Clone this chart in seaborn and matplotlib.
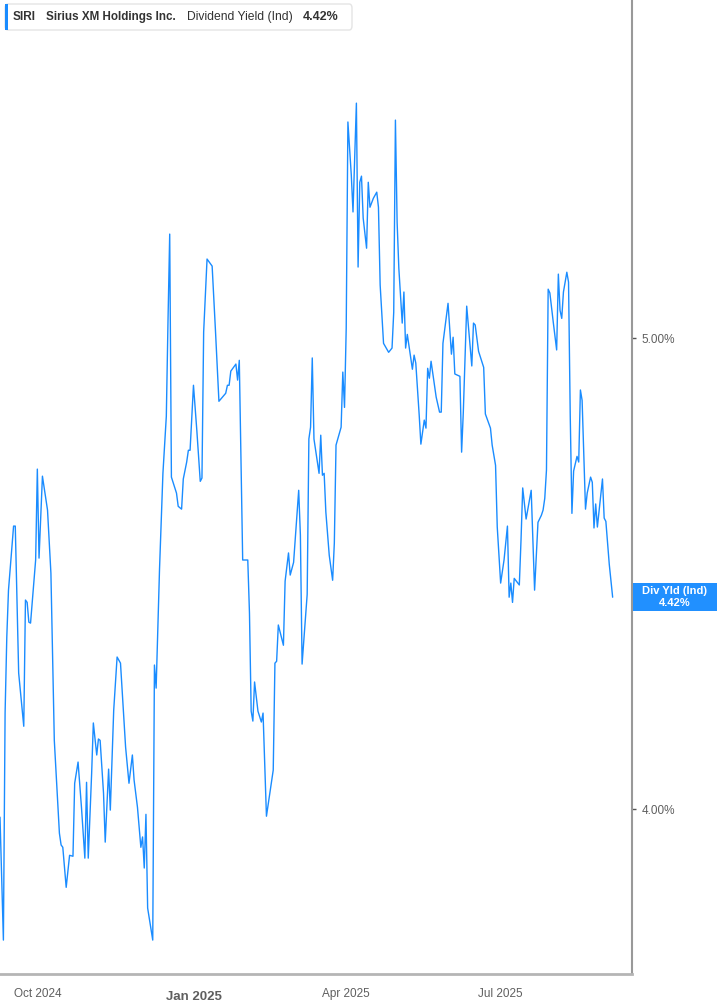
import matplotlib
matplotlib.use("Agg")
import matplotlib.pyplot as plt
from matplotlib.patches import FancyBboxPatch, Rectangle
import seaborn as sns
import pandas as pd

# ---- data (calendar days since 2024-09-09, yield in %) ----
start_date = "2024-09-09"
days = [0, 2, 3, 4, 5, 8, 9, 11, 14, 15, 16, 17, 18, 21, 22, 23, 25, 28, 30, 32,
        35, 36, 37, 39, 41, 43, 44, 46, 48, 50, 51, 52, 54, 55, 57, 58, 59, 61, 62, 64,
        65, 67, 69, 71, 74, 76, 78, 79, 81, 83, 84, 85, 86, 87, 90, 91, 92, 94, 96, 98,
        99, 100, 101, 104, 105, 107, 108, 110, 111, 112, 114, 116, 118, 119, 120, 122, 125, 127, 129, 132,
        133, 134, 135, 136, 139, 140, 141, 143, 146, 147, 148, 149, 150, 152, 154, 155, 157, 161, 162, 163,
        164, 167, 168, 170, 171, 173, 176, 177, 178, 181, 182, 183, 184, 185, 188, 189, 190, 191, 192, 194,
        196, 197, 198, 201, 202, 203, 204, 205, 207, 208, 210, 211, 212, 213, 214, 216, 217, 218, 220, 222,
        223, 224, 226, 229, 231, 232, 233, 234, 235, 237, 238, 239, 240, 243, 244, 245, 247, 248, 250, 251,
        252, 253, 254, 257, 259, 260, 261, 264, 266, 267, 268, 271, 272, 273, 275, 278, 279, 280, 282, 285,
        286, 289, 290, 292, 293, 295, 297, 299, 300, 301, 302, 303, 306, 307, 308, 310, 313, 314, 315, 317,
        319, 320, 321, 322, 323, 324, 326, 328, 329, 330, 331, 332, 334, 335, 336, 337, 338, 340, 341, 342,
        343, 345, 346, 348, 349, 350, 351, 352, 355, 356, 357, 359, 361]
div_yield = [3.983, 3.722, 4.204, 4.365, 4.465, 4.601, 4.601, 4.289, 4.176, 4.444, 4.439, 4.397, 4.395, 4.529, 4.722, 4.533, 4.707, 4.635, 4.501, 4.146,
             3.949, 3.924, 3.919, 3.834, 3.902, 3.900, 4.055, 4.100, 4.004, 3.896, 4.057, 3.896, 4.076, 4.183, 4.115, 4.149, 4.146, 4.034, 3.930, 4.085,
             3.998, 4.210, 4.323, 4.310, 4.132, 4.055, 4.115, 4.062, 4.004, 3.919, 3.941, 3.875, 3.989, 3.790, 3.722, 4.306, 4.257, 4.510, 4.713, 4.834,
             5.038, 5.221, 4.705, 4.671, 4.643, 4.637, 4.701, 4.737, 4.762, 4.762, 4.900, 4.803, 4.696, 4.703, 5.013, 5.168, 5.153, 5.013, 4.866, 4.879,
             4.883, 4.900, 4.900, 4.930, 4.945, 4.911, 4.953, 4.529, 4.529, 4.416, 4.208, 4.187, 4.270, 4.208, 4.185, 4.204, 3.985, 4.083, 4.310, 4.314,
             4.391, 4.348, 4.484, 4.544, 4.497, 4.524, 4.677, 4.582, 4.308, 4.456, 4.786, 4.811, 4.958, 4.786, 4.713, 4.794, 4.709, 4.713, 4.631, 4.539,
             4.486, 4.565, 4.773, 4.811, 4.928, 4.853, 5.021, 5.459, 5.346, 5.268, 5.499, 5.151, 5.331, 5.344, 5.255, 5.191, 5.331, 5.278, 5.297, 5.310,
             5.278, 5.113, 4.989, 4.970, 4.979, 5.055, 5.463, 5.246, 5.149, 5.032, 5.098, 4.979, 5.008, 4.934, 4.964, 4.947, 4.837, 4.775, 4.826, 4.809,
             4.936, 4.915, 4.951, 4.875, 4.843, 4.843, 4.989, 5.074, 4.966, 5.002, 4.924, 4.919, 4.758, 4.843, 5.068, 4.941, 5.032, 5.028, 4.972, 4.938,
             4.839, 4.809, 4.773, 4.730, 4.599, 4.480, 4.529, 4.601, 4.450, 4.480, 4.439, 4.490, 4.476, 4.571, 4.682, 4.616, 4.677, 4.571, 4.465, 4.609,
             4.624, 4.635, 4.660, 4.720, 5.104, 5.096, 5.034, 4.975, 5.136, 5.059, 5.042, 5.098, 5.140, 5.119, 4.837, 4.628, 4.718, 4.749, 4.737, 4.890,
             4.868, 4.637, 4.671, 4.705, 4.694, 4.597, 4.648, 4.599, 4.701, 4.618, 4.611, 4.520, 4.450]

tick_dates = ["2024-10-01", "2025-01-01", "2025-04-01", "2025-07-01"]
tick_labels = ["Oct 2024", "Jan 2025", "Apr 2025", "Jul 2025"]
y_ticks = [4.0, 5.0]
y_tick_labels = ["4.00%", "5.00%"]
ticker = "SIRI"
company = "Sirius XM Holdings Inc."
metric = "Dividend Yield (Ind)"
last_label = "4.42%"

df = pd.DataFrame({
    "date": pd.Timestamp(start_date) + pd.to_timedelta(days, unit="D"),
    "yield": div_yield,
})

sns.set_style("white")
plt.rcParams["font.family"] = ["Liberation Sans", "DejaVu Sans"]

line_blue = "#1a8cff"
grey_txt = "#5f5f5f"

fig = plt.figure(figsize=(7.17, 10.05), dpi=100)
ax = fig.add_axes([0.0, 31 / 1005, 632 / 717, 974 / 1005])

sns.lineplot(data=df, x="date", y="yield", ax=ax, color=line_blue, linewidth=1.0)

ax.set_xlim(pd.Timestamp(start_date), pd.Timestamp(start_date) + pd.Timedelta(days=372.4))
ax.set_ylim(3.650, 5.718)
ax.set_xlabel("")
ax.set_ylabel("")

# right-hand y axis
ax.yaxis.tick_right()
ax.set_yticks(y_ticks)
ax.set_yticklabels(y_tick_labels, fontsize=8.5, color=grey_txt)
ax.tick_params(axis="y", length=3, width=1, color="#555555", pad=4, direction="out")

ax.set_xticks(pd.to_datetime(tick_dates))
ax.set_xticklabels(tick_labels, fontsize=8.5, color=grey_txt)
ax.tick_params(axis="x", length=5, width=1, color="#aaaaaa", pad=5)
for lab in ax.get_xticklabels():
    if lab.get_text() == "Jan 2025":
        lab.set_fontweight("bold")
        lab.set_fontsize(9.5)
        lab.set_y(-0.003)

for s in ["top", "left"]:
    ax.spines[s].set_visible(False)
ax.spines["right"].set_color("#999999")
ax.spines["right"].set_linewidth(1.5)
ax.spines["bottom"].set_color("#b5b5b5")
ax.spines["bottom"].set_linewidth(2)
ax.grid(False)

# header box with ticker / company / metric
fig.patches.append(FancyBboxPatch((5 / 717, 1 - 30 / 1005), 347 / 717, 26 / 1005,
                                  boxstyle="round,pad=0,rounding_size=0.004",
                                  transform=fig.transFigure, facecolor="white",
                                  edgecolor="#e4e4e4", linewidth=1))
fig.patches.append(Rectangle((5 / 717, 1 - 30 / 1005), 3 / 717, 26 / 1005,
                             transform=fig.transFigure, facecolor=line_blue, edgecolor="none"))
hy = 1 - 17 / 1005
fig.text(13 / 717, hy, ticker, fontsize=8.6, fontweight="bold", color="#333333", va="center")
fig.text(46 / 717, hy, company, fontsize=8.4, fontweight="bold", color="#333333", va="center")
fig.text(187 / 717, hy, metric, fontsize=8.7, color="#333333", va="center")
fig.text(303 / 717, hy, last_label, fontsize=9, fontweight="bold", color="#333333", va="center")

# last value flag on the right
fig.patches.append(Rectangle((633 / 717, 1 - 611 / 1005), 84 / 717, 28 / 1005,
                             transform=fig.transFigure, facecolor="#2190ff", edgecolor="none"))
fig.text(675 / 717, 1 - 591 / 1005, "Div Yld (Ind)", fontsize=8, fontweight="bold",
         color="white", ha="center", va="center")
fig.text(675 / 717, 1 - 603 / 1005, last_label, fontsize=8, fontweight="bold",
         color="white", ha="center", va="center")

fig.savefig("out.png", dpi=100)
